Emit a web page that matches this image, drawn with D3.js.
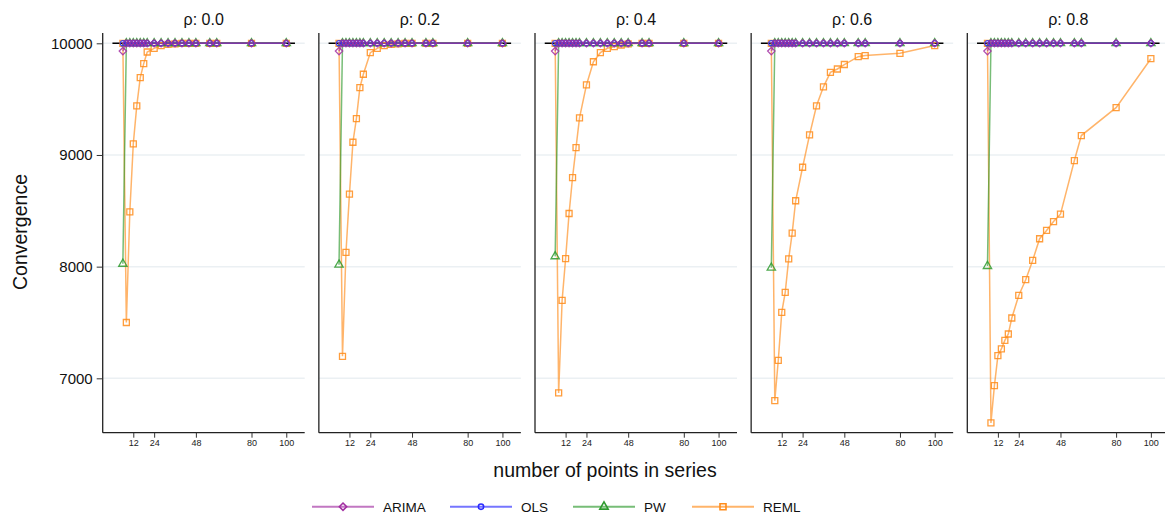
<!DOCTYPE html>
<html>
<head>
<meta charset="utf-8">
<script src="https://cdn.jsdelivr.net/npm/d3@7"></script>
<style>
  html, body { margin: 0; padding: 0; background: #fff; }
  svg { display: block; font-family: "Liberation Sans", Arial, sans-serif; }
</style>
</head>
<body>
<svg id="chart" width="1165" height="519"></svg>
<script>
// ---- data ----
const nPoints = [6, 8, 10, 12, 14, 16, 18, 20, 24, 28, 32, 36, 40, 44, 48, 56, 60, 80, 100];
const panelTitles = ["ρ: 0.0", "ρ: 0.2", "ρ: 0.4", "ρ: 0.6", "ρ: 0.8"];
const seriesNames = ["ARIMA", "OLS", "PW", "REML"];
const yTicks = [7000, 8000, 9000, 10000];
const xTicks = [12, 24, 48, 80, 100];

const arimaR00 = [9930, 10000, 10000, 10000, 10000, 10000, 10000, 10000, 10000, 10000, 10000, 10000, 10000, 10000, 10000, 10000, 10000, 10000, 10000];
const arimaR02 = [9930, 10000, 10000, 10000, 10000, 10000, 10000, 10000, 10000, 10000, 10000, 10000, 10000, 10000, 10000, 10000, 10000, 10000, 10000];
const arimaR04 = [9930, 10000, 10000, 10000, 10000, 10000, 10000, 10000, 10000, 10000, 10000, 10000, 10000, 10000, 10000, 10000, 10000, 10000, 10000];
const arimaR06 = [9930, 10000, 10000, 10000, 10000, 10000, 10000, 10000, 10000, 10000, 10000, 10000, 10000, 10000, 10000, 10000, 10000, 10000, 10000];
const arimaR08 = [9930, 10000, 10000, 10000, 10000, 10000, 10000, 10000, 10000, 10000, 10000, 10000, 10000, 10000, 10000, 10000, 10000, 10000, 10000];

const olsR00 = [10000, 10000, 10000, 10000, 10000, 10000, 10000, 10000, 10000, 10000, 10000, 10000, 10000, 10000, 10000, 10000, 10000, 10000, 10000];
const olsR02 = [10000, 10000, 10000, 10000, 10000, 10000, 10000, 10000, 10000, 10000, 10000, 10000, 10000, 10000, 10000, 10000, 10000, 10000, 10000];
const olsR04 = [10000, 10000, 10000, 10000, 10000, 10000, 10000, 10000, 10000, 10000, 10000, 10000, 10000, 10000, 10000, 10000, 10000, 10000, 10000];
const olsR06 = [10000, 10000, 10000, 10000, 10000, 10000, 10000, 10000, 10000, 10000, 10000, 10000, 10000, 10000, 10000, 10000, 10000, 10000, 10000];
const olsR08 = [10000, 10000, 10000, 10000, 10000, 10000, 10000, 10000, 10000, 10000, 10000, 10000, 10000, 10000, 10000, 10000, 10000, 10000, 10000];

const pwR00 = [8025, 10000, 10000, 10000, 10000, 10000, 10000, 10000, 10000, 10000, 10000, 10000, 10000, 10000, 10000, 10000, 10000, 10000, 10000];
const pwR02 = [8017, 10000, 10000, 10000, 10000, 10000, 10000, 10000, 10000, 10000, 10000, 10000, 10000, 10000, 10000, 10000, 10000, 10000, 10000];
const pwR04 = [8092, 10000, 10000, 10000, 10000, 10000, 10000, 10000, 10000, 10000, 10000, 10000, 10000, 10000, 10000, 10000, 10000, 10000, 10000];
const pwR06 = [7990, 10000, 10000, 10000, 10000, 10000, 10000, 10000, 10000, 10000, 10000, 10000, 10000, 10000, 10000, 10000, 10000, 10000, 10000];
const pwR08 = [8005, 10000, 10000, 10000, 10000, 10000, 10000, 10000, 10000, 10000, 10000, 10000, 10000, 10000, 10000, 10000, 10000, 10000, 10000];

const remlR00 = [10000, 7500, 8490, 9100, 9440, 9692, 9818, 9922, 9955, 9980, 9990, 9995, 10000, 10000, 10000, 10000, 10000, 10000, 10000];
const remlR02 = [10000, 7197, 8127, 8649, 9114, 9326, 9603, 9723, 9916, 9955, 9979, 9990, 9995, 10000, 10000, 10000, 10000, 10000, 10000];
const remlR04 = [10000, 6869, 7698, 8071, 8476, 8798, 9066, 9332, 9627, 9835, 9916, 9955, 9970, 9985, 9995, 10000, 10000, 10000, 10000];
const remlR06 = [10000, 6800, 7160, 7590, 7770, 8070, 8300, 8590, 8890, 9180, 9440, 9610, 9740, 9770, 9810, 9880, 9890, 9910, 9980];
const remlR08 = [10000, 6601, 6935, 7203, 7263, 7340, 7397, 7540, 7742, 7883, 8056, 8250, 8324, 8404, 8470, 8950, 9174, 9424, 9862];

const refLineN = [0, 105];
const refLineValue = 10000;

// table built from the arrays
const panels = [
  { title: panelTitles[0], ARIMA: arimaR00, OLS: olsR00, PW: pwR00, REML: remlR00 },
  { title: panelTitles[1], ARIMA: arimaR02, OLS: olsR02, PW: pwR02, REML: remlR02 },
  { title: panelTitles[2], ARIMA: arimaR04, OLS: olsR04, PW: pwR04, REML: remlR04 },
  { title: panelTitles[3], ARIMA: arimaR06, OLS: olsR06, PW: pwR06, REML: remlR06 },
  { title: panelTitles[4], ARIMA: arimaR08, OLS: olsR08, PW: pwR08, REML: remlR08 }
];

// ---- styles ----
const colors = { ARIMA: "#a22ea2", OLS: "#2b2bff", PW: "#2e9a2e", REML: "#ff8c1a" };
const symbols = { ARIMA: d3.symbolDiamond2, OLS: d3.symbolCircle, PW: d3.symbolTriangle, REML: d3.symbolSquare };
const symSize = { ARIMA: 34, OLS: 22, PW: 30, REML: 36 };
const drawOrder = ["REML", "PW", "OLS", "ARIMA"];

const svg = d3.select("#chart");
const panelLeft0 = 102.7, panelStep = 216.15, panelW = 202;
const plotTop = 33, plotBottom = 432.7;

const y = d3.scaleLinear().domain([6513, 10000]).range([plotBottom, 43.3]);

panels.forEach((p, i) => {
  const left = panelLeft0 + i * panelStep;
  const x = d3.scaleLinear().domain([-5.6, 110.6]).range([left, left + panelW]);
  const g = svg.append("g");

  // grid
  g.selectAll("line.grid").data(yTicks).enter().append("line")
    .attr("x1", left).attr("x2", left + panelW)
    .attr("y1", d => y(d)).attr("y2", d => y(d))
    .attr("stroke", "#ebf0f3").attr("stroke-width", 1.5);

  // axes
  const xAxis = d3.axisBottom(x).tickValues(xTicks).tickSize(5).tickPadding(2).tickSizeOuter(0);
  const gx = g.append("g").attr("transform", `translate(0,${plotBottom})`).call(xAxis);
  gx.select(".domain").attr("stroke", "#222").attr("stroke-width", 1.3)
    .attr("d", `M${left},0H${left + panelW}`);
  gx.selectAll(".tick line").attr("stroke", "#333");
  gx.selectAll(".tick text").attr("font-size", 9).attr("fill", "#222")
    .attr("font-family", "Liberation Sans, Arial, sans-serif");

  // y axis line
  g.append("line").attr("x1", left).attr("x2", left)
    .attr("y1", plotTop).attr("y2", plotBottom)
    .attr("stroke", "#222").attr("stroke-width", 1.3);

  if (i === 0) {
    const yAxis = d3.axisLeft(y).tickValues(yTicks).tickFormat(d3.format("d"))
      .tickSize(6).tickPadding(4).tickSizeOuter(0);
    const gy = g.append("g").attr("transform", `translate(${left},0)`).call(yAxis);
    gy.select(".domain").remove();
    gy.selectAll(".tick line").attr("stroke", "#333");
    gy.selectAll(".tick text").attr("font-size", 15).attr("fill", "#111")
      .attr("font-family", "Liberation Sans, Arial, sans-serif");
  }

  // title
  g.append("text").attr("x", left + panelW / 2).attr("y", 24.5)
    .attr("text-anchor", "middle").attr("font-size", 16).attr("fill", "#111")
    .text(p.title);

  // reference line
  g.append("line").attr("x1", x(refLineN[0])).attr("x2", x(refLineN[1]))
    .attr("y1", y(refLineValue)).attr("y2", y(refLineValue))
    .attr("stroke", "#000").attr("stroke-width", 1.6);

  const line = d3.line().x((d, j) => x(nPoints[j])).y(d => y(d));

  drawOrder.forEach(s => {
    g.append("path").datum(p[s]).attr("d", line)
      .attr("fill", "none").attr("stroke", colors[s])
      .attr("stroke-opacity", 0.65).attr("stroke-width", 1.5);
  });
  drawOrder.forEach(s => {
    const sym = d3.symbol().type(symbols[s]).size(symSize[s]);
    g.selectAll(null).data(p[s]).enter().append("path")
      .attr("d", sym)
      .attr("transform", (d, j) => `translate(${x(nPoints[j])},${y(d)})`)
      .attr("fill", "none").attr("stroke", colors[s])
      .attr("stroke-opacity", 0.85).attr("stroke-width", 1.3);
  });
});

// axis titles
svg.append("text").attr("x", 605).attr("y", 477)
  .attr("text-anchor", "middle").attr("font-size", 19.5).attr("fill", "#111")
  .text("number of points in series");
svg.append("text").attr("transform", "translate(26.5,232) rotate(-90)")
  .attr("text-anchor", "middle").attr("font-size", 19.5).attr("fill", "#111")
  .text("Convergence");

// legend
const legendX = [312, 450, 573, 692];
const legY = 506.7;
seriesNames.forEach((s, i) => {
  const lx = legendX[i];
  const lg = svg.append("g");
  lg.append("line").attr("x1", lx).attr("x2", lx + 62).attr("y1", legY).attr("y2", legY)
    .attr("stroke", colors[s]).attr("stroke-opacity", 0.65).attr("stroke-width", 2);
  lg.append("path").attr("d", d3.symbol().type(symbols[s]).size(symSize[s])())
    .attr("transform", `translate(${lx + 31},${legY})`)
    .attr("fill", "none").attr("stroke", colors[s]).attr("stroke-width", 1.6);
  lg.append("text").attr("x", lx + 71).attr("y", legY + 5)
    .attr("font-size", 13.5).attr("fill", "#111").text(s);
});
</script>
</body>
</html>
